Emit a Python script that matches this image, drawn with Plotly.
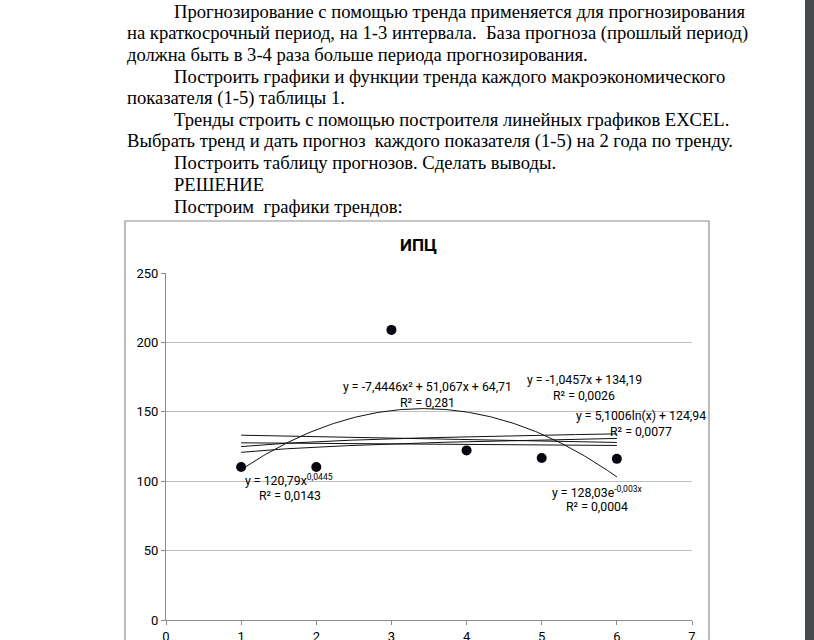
import numpy as np
import plotly.graph_objects as go

# ---- data ----
x_vals = [1, 2, 3, 4, 5, 6]
ipc_vals = [110.2, 110.2, 209.0, 122.2, 116.7, 116.1]
x_ticks = [0, 1, 2, 3, 4, 5, 6, 7]
y_ticks = [0, 50, 100, 150, 200, 250]

# trendline coefficients (as shown on the chart)
quad_coef = [-7.4446, 51.067, 64.71]
lin_coef = [-1.0457, 134.19]
log_coef = [5.1006, 124.94]
pow_coef = [120.79, 0.0445]
exp_coef = [128.03, -0.003]

title = "ИПЦ"
doc_lines = [
    ("Прогнозирование с помощью тренда применяется для прогнозирования", True),
    ("на краткосрочный период, на 1-3 интервала.  База прогноза (прошлый период)", False),
    ("должна быть в 3-4 раза больше периода прогнозирования.", False),
    ("Построить графики и функции тренда каждого макроэкономического", True),
    ("показателя (1-5) таблицы 1.", False),
    ("Тренды строить с помощью построителя линейных графиков EXCEL.", True),
    ("Выбрать тренд и дать прогноз  каждого показателя (1-5) на 2 года по тренду.", False),
    ("Построить таблицу прогнозов. Сделать выводы.", True),
    ("РЕШЕНИЕ", True),
    ("Построим  графики трендов:", True),
]

# ---- layout geometry (pixels) ----
W, H = 814, 640
L, R, T, B = 166, 122, 273, 20
PW, PH = W - L - R, H - T - B


def px(xp):
    return (xp - L) / PW


def py(yp):
    return (H - B - yp) / PH


fig = go.Figure()

xs = np.linspace(1, 6, 200)
curves = [
    np.polyval(quad_coef, xs),
    lin_coef[0] * xs + lin_coef[1],
    log_coef[0] * np.log(xs) + log_coef[1],
    pow_coef[0] * xs ** pow_coef[1],
    exp_coef[0] * np.exp(exp_coef[1] * xs),
]
for c in curves:
    fig.add_trace(go.Scatter(x=xs, y=c, mode="lines",
                             line=dict(color="#111111", width=1),
                             hoverinfo="skip", showlegend=False))

fig.add_trace(go.Scatter(x=x_vals, y=ipc_vals, mode="markers",
                         marker=dict(color="#050510", size=10),
                         showlegend=False))

ann = []
# document text
for i, (txt, indent) in enumerate(doc_lines):
    ann.append(dict(text=txt, xref="paper", yref="paper",
                    x=px(172 if indent else 125), y=py(11 + 21.7 * i),
                    xanchor="left", yanchor="middle", showarrow=False,
                    font=dict(family="Liberation Serif", size=18.6, color="#000")))

# chart title
ann.append(dict(text="<b>" + title + "</b>", xref="paper", yref="paper",
                x=px(418), y=py(245), xanchor="center", yanchor="middle",
                showarrow=False,
                font=dict(family="Roboto", size=17, color="#000")))

eq_font = dict(family="Roboto", size=12.3, color="#000")
eqs = [
    ("y = -7,4446x² + 51,067x + 64,71", 427.5, 387),
    ("R² = 0,281", 427.5, 403),
    ("y = -1,0457x + 134,19", 584, 380),
    ("R² = 0,0026", 584, 396),
    ("y = 5,1006ln(x) + 124,94", 641, 416),
    ("R² = 0,0077", 641, 432),
    ("y = 128,03e<sup>-0,003x</sup>", 597, 492),
    ("R² = 0,0004", 597, 507),
    ("y = 120,79x<sup>0,0445</sup>", 289, 480),
    ("R² = 0,0143", 290, 496),
]
for txt, xx, yy in eqs:
    ann.append(dict(text=txt, xref="paper", yref="paper", x=px(xx), y=py(yy),
                    xanchor="center", yanchor="middle", showarrow=False,
                    font=eq_font))

shapes = [
    # chart border
    dict(type="rect", xref="paper", yref="paper",
         x0=px(125), x1=px(709), y0=py(660), y1=py(221),
         line=dict(color="#8e8e8e", width=1.2), fillcolor="rgba(0,0,0,0)",
         layer="below"),
    # dark side bar
    dict(type="rect", xref="paper", yref="paper",
         x0=px(805), x1=px(816), y0=py(650), y1=py(-10),
         line=dict(width=0), fillcolor="#45494c"),
]

fig.update_layout(
    width=W, height=H,
    margin=dict(l=L, r=R, t=T, b=B, autoexpand=False),
    paper_bgcolor="white", plot_bgcolor="white",
    annotations=ann, shapes=shapes,
    xaxis=dict(range=[0, 7], tickvals=x_ticks, showgrid=False, zeroline=False,
               showline=True, linecolor="#8c8c8c", linewidth=1,
               ticks="outside", ticklen=4, tickcolor="#8c8c8c",
               tickfont=dict(family="Roboto", size=13, color="#000"),
               automargin=False, fixedrange=True),
    yaxis=dict(range=[0, 250], tickvals=y_ticks, showgrid=True,
               gridcolor="#bfbfbf", gridwidth=1, zeroline=False,
               showline=True, linecolor="#8c8c8c", linewidth=1,
               ticks="outside", ticklen=4, tickcolor="#8c8c8c",
               tickfont=dict(family="Roboto", size=13, color="#000"),
               automargin=False, fixedrange=True),
)

fig.write_html("out.html")
